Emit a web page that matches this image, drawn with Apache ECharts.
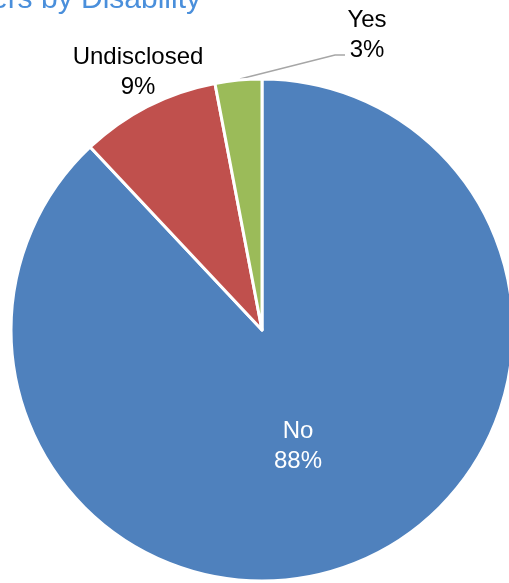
<!DOCTYPE html>
<html>
<head>
<meta charset="utf-8">
<script src="https://cdn.jsdelivr.net/npm/echarts@6/dist/echarts.min.js"></script>
<style>
  html, body { margin: 0; padding: 0; background: #fff; }
  #chart { width: 509px; height: 583px; }
</style>
</head>
<body>
<div id="chart"></div>
<script>
// Respondents grouped by disability status
const categories = ['No', 'Undisclosed', 'Yes'];
const values = [88, 9, 3];
const colors = ['#4F81BD', '#C0504D', '#9BBB59'];
const titleText = 'Volunteers by Disability';

const chart = echarts.init(document.getElementById('chart'), null, { renderer: 'canvas' });

const data = categories.map((name, i) => ({
  name: name,
  value: values[i],
  itemStyle: { color: colors[i] }
}));
data[0].label = { position: 'inside', color: '#ffffff' };
data[2].labelLine = { show: true, lineStyle: { color: '#a6a6a6', width: 1.5 } };

chart.setOption({
  backgroundColor: '#ffffff',
  animation: false,
  graphic: [{
    type: 'text',
    x: 201,
    y: 15,
    style: {
      text: titleText,
      fill: '#4A8FDB',
      font: '30px "Liberation Sans", Arial, sans-serif',
      textAlign: 'right',
      textVerticalAlign: 'bottom'
    }
  }],
  series: [{
    type: 'pie',
    center: [262, 330],
    radius: 251,
    startAngle: 90,
    clockwise: true,
    avoidLabelOverlap: false,
    itemStyle: { borderColor: '#ffffff', borderWidth: 3 },
    label: {
      show: true,
      position: 'outside',
      formatter: '{b}\n{d}%',
      fontFamily: '"Liberation Sans", Arial, sans-serif',
      fontSize: 24,
      lineHeight: 30,
      color: '#000000'
    },
    labelLine: { show: false },
    labelLayout: function (p) {
      if (p.dataIndex === 0) {
        return { x: 298, y: 446, align: 'center', verticalAlign: 'middle' };
      }
      if (p.dataIndex === 1) {
        return { x: 138, y: 72, align: 'center', verticalAlign: 'middle' };
      }
      if (p.dataIndex === 2) {
        return {
          x: 367, y: 35, align: 'center', verticalAlign: 'middle',
          labelLinePoints: [[240, 79], [335, 55], [345, 55]]
        };
      }
    },
    emphasis: { disabled: true },
    data: data
  }]
});
</script>
</body>
</html>
